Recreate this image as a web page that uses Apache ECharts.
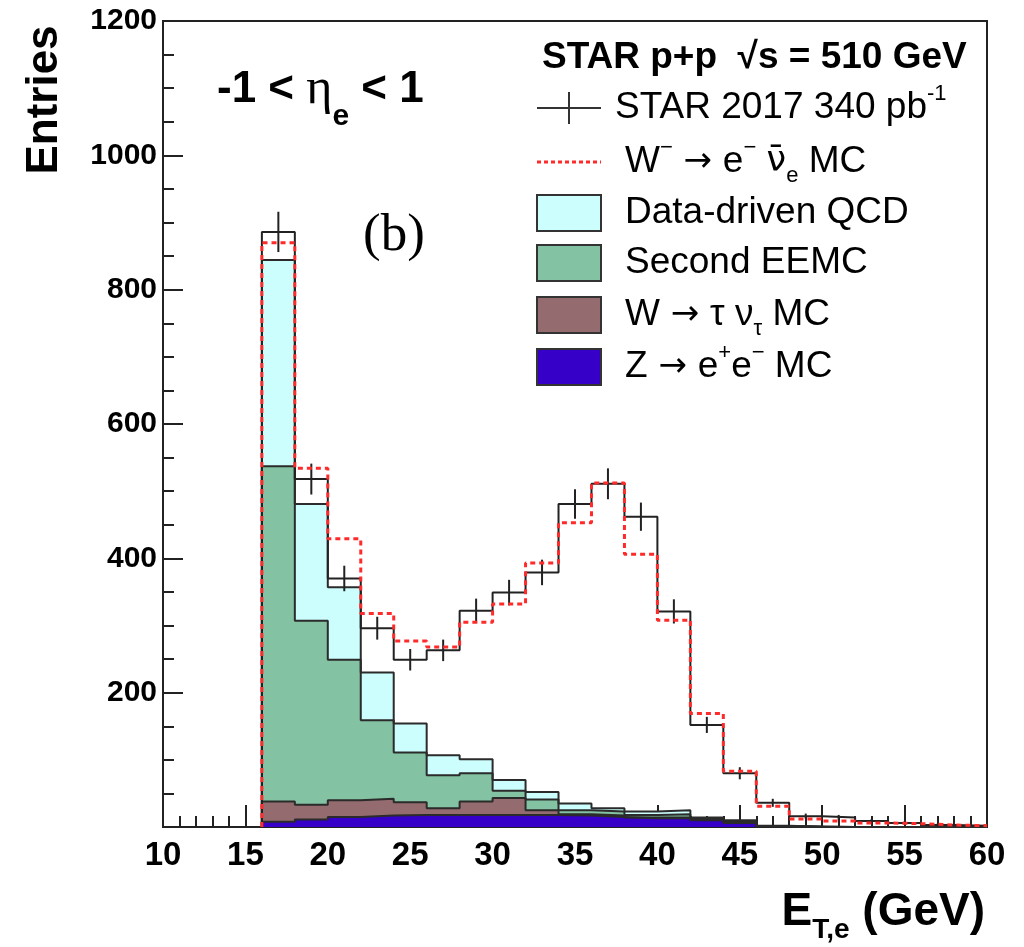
<!DOCTYPE html>
<html><head><meta charset="utf-8">
<script src="https://cdn.jsdelivr.net/npm/echarts@6/dist/echarts.min.js"></script>
<style>html,body{margin:0;padding:0;background:#fff}#c{width:1024px;height:947px}</style>
</head><body><div id="c"></div>
<script>
// ---- data (bin low edges, 2 GeV wide bins) ----
const binLow = [16,18,20,22,24,26,28,30,32,34,36,38,40,42,44,46,48,50,52,54,56,58];
const binWidth = 2;
const dataCounts = [886,518,370,296,249,263,322,349,379,481,511,462,321,152,80,36,16,14,9,6,3,2];
const dataErrors = [30,23,19,17,16,16,18,19,19,22,23,21,18,12,9,6,4,4,3,2.5,2,1.5];
const wMinusMC  = [870,534,429,318,277,268,305,332,393,453,512,406,308,169,83,31,12,9,6,5,3,2];
const zBkg      = [8,11,15,17,18,18,18,18,18,17,15,13,13,10,6,1,0.5,0,0,0,0,0];
const wTauBkg   = [30,22,25,25,19,10,20,25,7,2,2,1,1,1,2,0,0,0,0,0,0,0];
const eemcBkg   = [499,274,209,117,74,49,42,11,16,6,6,4,5,1,1,0,0,0,0,0,0,0];
const qcdBkg    = [307,174,108,71,43,30,21,16,11,10,5,5,6,2,1,1,0,0,0,0,0,0];
const xTicks = [10,15,20,25,30,35,40,45,50,55,60];
const yTicks = [0,200,400,600,800,1000,1200];

// ---- stacking (cumulative tops) ----
const cumZ = zBkg.slice();
const cumTau = cumZ.map((v,i)=>v+wTauBkg[i]);
const cumEemc = cumTau.map((v,i)=>v+eemcBkg[i]);
const cumQcd = cumEemc.map((v,i)=>v+qcdBkg[i]);

function stepData(vals){
  const d = [[binLow[0], 0]];
  vals.forEach((v,i)=>d.push([binLow[i], v]));
  d.push([binLow[binLow.length-1]+binWidth, vals[vals.length-1]]);
  return d;
}
const outline = {color:'#2b2b2b', width:2};
function fillSeries(name, vals, color){
  return {type:'line', name, step:'end', data:stepData(vals), showSymbol:false, symbol:'none',
    lineStyle:outline, areaStyle:{color, opacity:1}, z:2, silent:true, animation:false};
}

const chart = echarts.init(document.getElementById('c'), null, {renderer:'canvas'});
const SANS = '"Liberation Sans", Arial, Helvetica, sans-serif';
const SERIF = '"Liberation Serif", "Times New Roman", serif';
const ARROW = '"DejaVu Sans", sans-serif';

const legendRows = [108,162,213,263,315,367];
const lx0 = 537, lx1 = 601, ltx = 625;
const txtRich = {
  n:{fontFamily:SANS, fontSize:37, lineHeight:50, verticalAlign:'middle', fill:'#000'},
  ar:{fontFamily:ARROW, fontSize:34, lineHeight:50, verticalAlign:'middle', fill:'#000'},
  sup:{fontFamily:SANS, fontSize:22, lineHeight:22, verticalAlign:'top', fill:'#000'},
  sub:{fontFamily:SANS, fontSize:22, lineHeight:22, verticalAlign:'bottom', fill:'#000'},
  nu:{fontFamily:ARROW, fontSize:35, lineHeight:50, verticalAlign:'middle', fill:'#000'}
};
function legText(x, y, text){
  return {type:'text', x, y, style:{text, align:'left', verticalAlign:'middle', rich:txtRich, fontFamily:SANS, fontSize:37, fill:'#000'}, z:10};
}
function legBox(y, color){
  return {type:'rect', shape:{x:lx0, y:y-18, width:lx1-lx0, height:36}, style:{fill:color, stroke:'#333', lineWidth:2}, z:10};
}

const option = {
  animation:false,
  backgroundColor:'#fff',
  grid:{left:163, right:37, top:21, bottom:120, show:true, borderColor:'#222', borderWidth:2, backgroundColor:'transparent'},
  xAxis:{type:'value', min:10, max:60, interval:5,
    axisLine:{show:true, onZero:false, lineStyle:{color:'#222', width:2}},
    axisTick:{show:true, inside:true, length:22, lineStyle:{color:'#222', width:2}},
    minorTick:{show:true, splitNumber:5, length:11, lineStyle:{color:'#222', width:2}},
    splitLine:{show:false},
    axisLabel:{margin:12, color:'#000', fontFamily:SANS, fontWeight:'bold', fontSize:33,
      formatter:(v)=> xTicks.includes(v) ? String(v) : ''}
  },
  yAxis:{type:'value', min:0, max:1200, interval:200,
    axisLine:{show:true, lineStyle:{color:'#222', width:2}},
    axisTick:{show:true, inside:true, length:20, lineStyle:{color:'#222', width:2}},
    minorTick:{show:true, splitNumber:4, length:11, lineStyle:{color:'#222', width:2}},
    splitLine:{show:false},
    axisLabel:{margin:6, color:'#000', fontFamily:SANS, fontWeight:'bold', fontSize:30,
      formatter:(v)=> (v===0 || !yTicks.includes(v)) ? '' : String(v)}
  },
  series:[
    fillSeries('Data-driven QCD', cumQcd, '#ccfefe'),
    fillSeries('Second EEMC', cumEemc, '#83c2a2'),
    fillSeries('W → τ ν_τ MC', cumTau, '#946b6f'),
    fillSeries('Z → e+e- MC', cumZ, '#3600c8'),
    {type:'line', name:'STAR 2017 340 pb-1', step:'end', data:stepData(dataCounts), showSymbol:false, symbol:'none',
      lineStyle:{color:'#222', width:2}, z:4, silent:true},
    {type:'custom', name:'STAR 2017 errors', clip:true, z:5, silent:true,
      data: binLow.map((b,i)=>[b+binWidth/2, dataCounts[i], dataErrors[i]]),
      renderItem:(params, api)=>{
        const x = api.value(0), y = api.value(1), e = api.value(2);
        const p1 = api.coord([x, Math.max(0, y-e)]), p2 = api.coord([x, y+e]);
        return {type:'line', shape:{x1:p1[0], y1:p1[1], x2:p2[0], y2:p2[1]}, style:{stroke:'#222', lineWidth:2}};
      }
    },
    {type:'line', name:'W− → e− ν̄e MC', step:'end', data:stepData(wMinusMC), showSymbol:false, symbol:'none',
      lineStyle:{color:'#ff2a2a', width:3, type:[5,4]}, z:6, silent:true}
  ],
  graphic:[
    // axis titles
    {type:'text', x:45, y:100, rotation:Math.PI/2,
      style:{text:'Entries', font:'bold 44px '+SANS, fill:'#000', align:'center', verticalAlign:'middle'}},
    {type:'text', x:985, y:912,
      style:{text:'{b|E}{s|T,e}{b| (GeV)}', align:'right', verticalAlign:'middle',
        rich:{b:{fontFamily:SANS, fontWeight:'bold', fontSize:46, lineHeight:64, verticalAlign:'middle', fill:'#000'},
              s:{fontFamily:SANS, fontWeight:'bold', fontSize:28, lineHeight:28, verticalAlign:'bottom', fill:'#000'}}}},
    // eta range
    {type:'text', x:217, y:90,
      style:{text:'{b|-1 < }{eta|η}{s|e}{b| < 1}', align:'left', verticalAlign:'middle',
        rich:{b:{fontFamily:SANS, fontWeight:'bold', fontSize:44, lineHeight:84, verticalAlign:'middle', fill:'#000'},
              eta:{fontFamily:SERIF, fontSize:50, lineHeight:84, verticalAlign:'middle', fill:'#000'},
              s:{fontFamily:SANS, fontWeight:'bold', fontSize:30, lineHeight:30, verticalAlign:'bottom', fill:'#000'}}}},
    {type:'text', x:363, y:236, style:{text:'(b)', font:'53px '+SERIF, fill:'#000', align:'left', verticalAlign:'middle'}},
    // legend header
    {type:'text', x:542, y:58, style:{text:'STAR p+p  √s = 510 GeV', font:'bold 37px '+SANS, fill:'#000', align:'left', verticalAlign:'middle'}},
    // legend: data
    {type:'line', shape:{x1:lx0, y1:legendRows[0], x2:lx1, y2:legendRows[0]}, style:{stroke:'#333', lineWidth:2}},
    {type:'line', shape:{x1:569, y1:legendRows[0]-16, x2:569, y2:legendRows[0]+16}, style:{stroke:'#333', lineWidth:2}},
    legText(615, legendRows[0], '{n|STAR 2017 340 pb}{sup|-1}'),
    // legend: W- MC
    {type:'line', shape:{x1:lx0, y1:legendRows[1], x2:lx1, y2:legendRows[1]}, style:{stroke:'#ff2a2a', lineWidth:3, lineDash:[4,3]}},
    legText(ltx, legendRows[1], '{n|W}{sup|−}{ar| → }{n|e}{sup|−}{n| }{nu|ν̄}{sub|e}{n| MC}'),
    legBox(legendRows[2], '#ccfefe'), legText(ltx, legendRows[2], '{n|Data-driven QCD}'),
    legBox(legendRows[3], '#83c2a2'), legText(ltx, legendRows[3], '{n|Second EEMC}'),
    legBox(legendRows[4], '#946b6f'), legText(ltx, legendRows[4], '{n|W}{ar| → }{n|τ ν}{sub|τ}{n| MC}'),
    legBox(legendRows[5], '#3600c8'), legText(ltx, legendRows[5], '{n|Z}{ar| → }{n|e}{sup|+}{n|e}{sup|−}{n| MC}')
  ]
};
chart.setOption(option);
</script>
</body></html>
